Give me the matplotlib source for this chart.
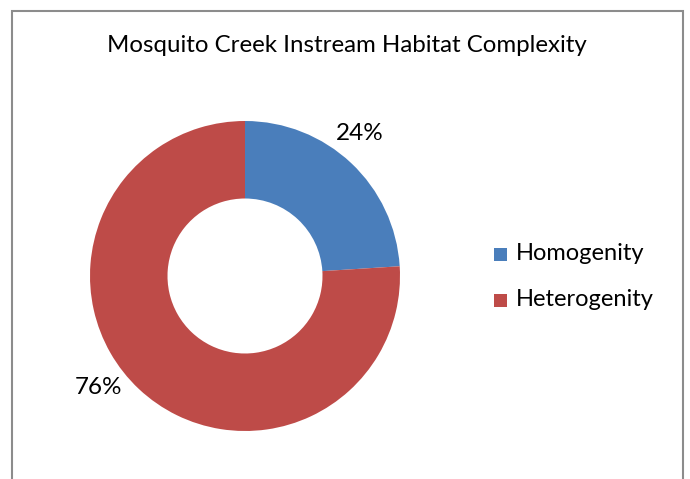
import matplotlib.pyplot as plt
from matplotlib.patches import Rectangle

# ---------------- DATA ----------------
labels = ["Homogenity", "Heterogenity"]
values = [24, 76]
pct_labels = ["24%", "76%"]
colors = ["#4a7ebb", "#be4b48"]
title = "Mosquito Creek Instream Habitat Complexity"

plt.rcParams['font.family'] = ['Lato', 'DejaVu Sans']

W, H = 690, 479
fig = plt.figure(figsize=(W / 100, H / 100), dpi=100)

# grey outer frame (bottom edge falls outside the picture)
fig.patches.append(Rectangle((12 / W, -0.05), (683 - 12) / W, (H - 11) / H + 0.05,
                             transform=fig.transFigure, fill=False,
                             edgecolor="#8c8c8c", linewidth=1.5))

fig.text(347 / W, 1 - 46 / H, title, ha="center", va="center", fontsize=17.3)

# donut: center (245, 276), outer radius 155 px
ax = fig.add_axes([90 / W, 1 - 431 / H, 310 / W, 310 / H])
wedges, _ = ax.pie(values, colors=colors, startangle=90, counterclock=False,
                   radius=1, wedgeprops=dict(width=0.5, linewidth=0))
ax.set_xlim(-1, 1)
ax.set_ylim(-1, 1)
ax.set_aspect("equal")
ax.axis("off")

# data labels
fig.text(360 / W, 1 - 133 / H, pct_labels[0], ha="center", va="center", fontsize=17.5)
fig.text(98 / W, 1 - 388 / H, pct_labels[1], ha="center", va="center", fontsize=17.5)

# legend
for i, (lab, col) in enumerate(zip(labels, colors)):
    y = 254 + i * 46
    fig.patches.append(Rectangle((494 / W, 1 - (y + 7) / H), 13 / W, 13 / H,
                                 transform=fig.transFigure, facecolor=col, edgecolor="none"))
    fig.text(516 / W, 1 - y / H, lab, ha="left", va="center", fontsize=17)

fig.savefig("out.png", dpi=100, facecolor="white")
